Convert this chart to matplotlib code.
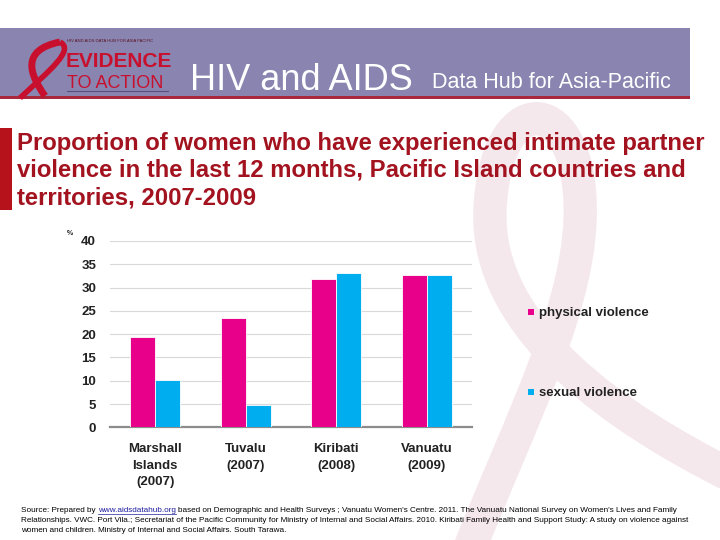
import numpy as np
import matplotlib
matplotlib.use('Agg')
import matplotlib.pyplot as plt
from matplotlib.path import Path
from matplotlib.patches import PathPatch, Rectangle

plt.rcParams['font.family'] = ['Liberation Sans', 'DejaVu Sans']

# data
countries = ['Marshall\nIslands\n(2007)', 'Tuvalu\n(2007)', 'Kiribati\n(2008)', 'Vanuatu\n(2009)']
physical = [19.3, 23.4, 31.9, 32.7]
sexual = [10.1, 4.8, 33.2, 32.7]
yticks = [0, 5, 10, 15, 20, 25, 30, 35, 40]

pink = '#E8008A'
blue = '#00ADEF'
title_red = '#A3121F'

fig = plt.figure(figsize=(7.2, 5.4), dpi=100)

# background layer in pixel coords
bg = fig.add_axes([0, 0, 1, 1], zorder=0)
bg.set_xlim(0, 720)
bg.set_ylim(540, 0)
bg.axis('off')

# faint ribbon watermark
C4 = Path.CURVE4
verts = [(465, 560), (520, 420), (585, 300), (580, 200),
         (575, 90), (495, 90), (490, 210),
         (485, 330), (620, 420), (730, 475)]
codes = [Path.MOVETO, C4, C4, C4, C4, C4, C4, C4, C4, C4]
bg.add_patch(PathPatch(Path(verts, codes), facecolor='none', edgecolor='#F5E8EC',
                       lw=24, capstyle='butt', zorder=0))

# header banner
bg.add_patch(Rectangle((0, 28), 690, 70, facecolor='#8985B0', edgecolor='none', zorder=1))
bg.add_patch(Rectangle((0, 96), 690, 3, facecolor='#A8283C', edgecolor='none', zorder=2))

# logo
rib = [(60, 42), (20, 50), (30, 75), (45, 96)]
bg.add_patch(PathPatch(Path(rib, [Path.MOVETO, C4, C4, C4]),
                       facecolor='none', edgecolor='#C8102E', lw=5, zorder=3))
rib2 = [(60, 42), (75, 50), (50, 70), (20, 98)]
bg.add_patch(PathPatch(Path(rib2, [Path.MOVETO, C4, C4, C4]),
                       facecolor='none', edgecolor='#C8102E', lw=4, zorder=3))
bg.text(67, 41, 'HIV AND AIDS DATA HUB FOR ASIA PACIFIC', fontsize=3, color='#5A1020',
        va='center', zorder=4)
bg.text(66, 67, 'EVIDENCE', fontsize=15, fontweight='bold', color='#C8102E',
        va='baseline', zorder=4)
bg.text(67, 88, 'TO ACTION', fontsize=13, color='#C8102E', va='baseline', zorder=4)
bg.plot([67, 168], [91, 91], color='#5A4E80', lw=0.8, zorder=4)

bg.text(190, 90, 'HIV and AIDS', fontsize=26, color='white', va='baseline', zorder=4)
bg.text(432, 88, 'Data Hub for Asia-Pacific', fontsize=15.5, color='white', va='baseline', zorder=4)

# title
bg.add_patch(Rectangle((0, 128), 12, 82, facecolor='#B5121B', edgecolor='none', zorder=2))
title_lines = ['Proportion of women who have experienced intimate partner',
               'violence in the last 12 months, Pacific Island countries and',
               'territories, 2007-2009']
for i, line in enumerate(title_lines):
    bg.text(17, 150 + 27 * i, line, fontsize=17.2, fontweight='bold', color=title_red,
            va='baseline', zorder=4)

# source note
src = ["based on Demographic and Health Surveys ; Vanuatu Women's Centre. 2011. The Vanuatu National Survey on Women's Lives and Family",
       "Relationships. VWC. Port Vila.; Secretariat of the Pacific Community for Ministry of Internal and Social Affairs. 2010. Kiribati Family Health and Support Study: A study on violence against",
       "women and children. Ministry of Internal and Social Affairs. South Tarawa."]
fs_src = 5.9
t0 = bg.text(21, 512, 'Source: Prepared by ', fontsize=fs_src, va='baseline', zorder=4)
fig.canvas.draw()
r = fig.canvas.get_renderer()
bb = t0.get_window_extent(r)
t1 = fig.text(bb.x1 / 720, 1 - 512 / 540, 'www.aidsdatahub.org', fontsize=fs_src, color='#1F1FA0',
              va='baseline', zorder=4)
bb1 = t1.get_window_extent(r)
bg.plot([bb1.x0, bb1.x1], [514, 514], color='#1F1FA0', lw=0.5, zorder=4)
fig.text((bb1.x1 + 2) / 720, 1 - 512 / 540, src[0], fontsize=fs_src, va='baseline', zorder=4)
bg.text(21, 522, src[1], fontsize=fs_src, va='baseline', zorder=4)
bg.text(21, 532, src[2], fontsize=fs_src, va='baseline', zorder=4)

# chart
ax = fig.add_axes([110 / 720, 1 - 427.3 / 540, 362 / 720, 186.3 / 540], zorder=1)
ax.patch.set_alpha(0)
x = np.arange(len(countries))
w = 0.276
ax.bar(x - w / 2, physical, w, color=pink, edgecolor='white', lw=0.6, label='physical violence', zorder=3)
ax.bar(x + w / 2, sexual, w, color=blue, edgecolor='white', lw=0.6, label='sexual violence', zorder=3)
ax.set_xlim(-0.5, 3.5)
ax.set_ylim(0, 40)
ax.set_yticks(yticks)
ax.set_yticklabels([str(v) for v in yticks], fontsize=9.5, fontweight='bold', color='#222222')
ax.yaxis.grid(True, color='#D9D9D9', lw=0.8, zorder=0)
for s in ['top', 'right', 'left']:
    ax.spines[s].set_visible(False)
ax.spines['bottom'].set_color('#8C8C8C')
ax.spines['bottom'].set_linewidth(1.6)
ax.tick_params(axis='y', length=0, pad=10)
ax.tick_params(axis='x', length=0, pad=11)
ax.set_xticks(x)
ax.set_xticklabels(countries, fontsize=9.5, fontweight='bold', color='#222222', linespacing=1.55)
ax.text(-0.11, 1.02, '%', transform=ax.transAxes, fontsize=5, fontweight='bold', color='#222222',
        ha='center', va='bottom')

# legend as separate entries
bg.add_patch(Rectangle((528, 309), 6, 6, facecolor=pink, edgecolor='none', zorder=4))
bg.text(539, 313, 'physical violence', fontsize=9.5, fontweight='bold', color='#222222',
        va='center', zorder=4)
bg.add_patch(Rectangle((528, 389), 6, 6, facecolor=blue, edgecolor='none', zorder=4))
bg.text(539, 393, 'sexual violence', fontsize=9.5, fontweight='bold', color='#222222',
        va='center', zorder=4)

fig.savefig('out.png', dpi=100)
